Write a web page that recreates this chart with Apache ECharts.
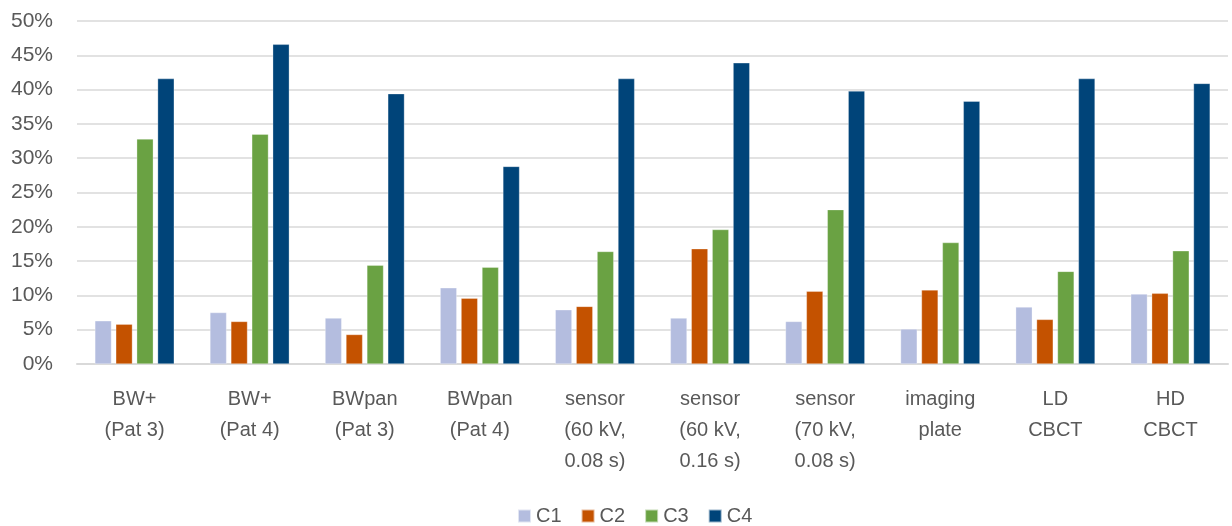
<!DOCTYPE html>
<html><head><meta charset="utf-8">
<script src="https://cdn.jsdelivr.net/npm/echarts@6/dist/echarts.min.js"></script>
<style>html,body{margin:0;padding:0;background:#fff}#c{width:1232px;height:526px}</style>
</head><body><div id="c"></div>
<script>
const categories = ['BW+\n(Pat 3)','BW+\n(Pat 4)','BWpan\n(Pat 3)','BWpan\n(Pat 4)','sensor\n(60 kV,\n0.08 s)','sensor\n(60 kV,\n0.16 s)','sensor\n(70 kV,\n0.08 s)','imaging\nplate','LD\nCBCT','HD\nCBCT'];
const seriesNames = ['C1','C2','C3','C4'];
const C1 = [6.3, 7.5, 6.7, 11.1, 7.9, 6.7, 6.2, 5.1, 8.3, 10.2];
const C2 = [5.8, 6.2, 4.3, 9.6, 8.4, 16.8, 10.6, 10.8, 6.5, 10.3];
const C3 = [32.8, 33.5, 14.4, 14.1, 16.4, 19.6, 22.5, 17.7, 13.5, 16.5];
const C4 = [41.6, 46.6, 39.4, 28.8, 41.6, 43.9, 39.8, 38.3, 41.6, 40.9];
const colors = ['#b4bddf', '#c45200', '#6aa243', '#004479'];
const font = '"Liberation Sans", sans-serif';
const data = [C1, C2, C3, C4];
const chart = echarts.init(document.getElementById('c'));
chart.setOption({
  animation: false,
  textStyle: {fontFamily: font},
  grid: {left: 77, right: 4, top: 21, bottom: 162, containLabel: false},
  legend: {
    top: 501, left: 512, itemWidth: 13, itemHeight: 13, itemGap: 19,
    icon: 'rect',
    textStyle: {fontFamily: font, fontSize: 20, color: '#595959'},
    data: seriesNames
  },
  xAxis: {
    type: 'category', data: categories,
    axisLine: {lineStyle: {color: '#d9d9d9', width: 2}},
    axisTick: {show: false},
    axisLabel: {fontFamily: font, fontSize: 20, color: '#595959', lineHeight: 31, margin: 20, interval: 0}
  },
  yAxis: {
    type: 'value', min: 0, max: 50, interval: 5,
    axisLine: {show: false}, axisTick: {show: false},
    axisLabel: {formatter: '{value}%', fontFamily: font, fontSize: 21, color: '#595959', margin: 24},
    splitLine: {lineStyle: {color: '#d9d9d9', width: 1.5}}
  },
  series: data.map((d, i) => ({
    name: seriesNames[i], type: 'bar', data: d,
    barWidth: 16.6, barGap: '26%',
    itemStyle: {color: colors[i], borderColor: 'rgba(255,255,255,0.6)', borderWidth: 0.5}
  }))
});
</script></body></html>
